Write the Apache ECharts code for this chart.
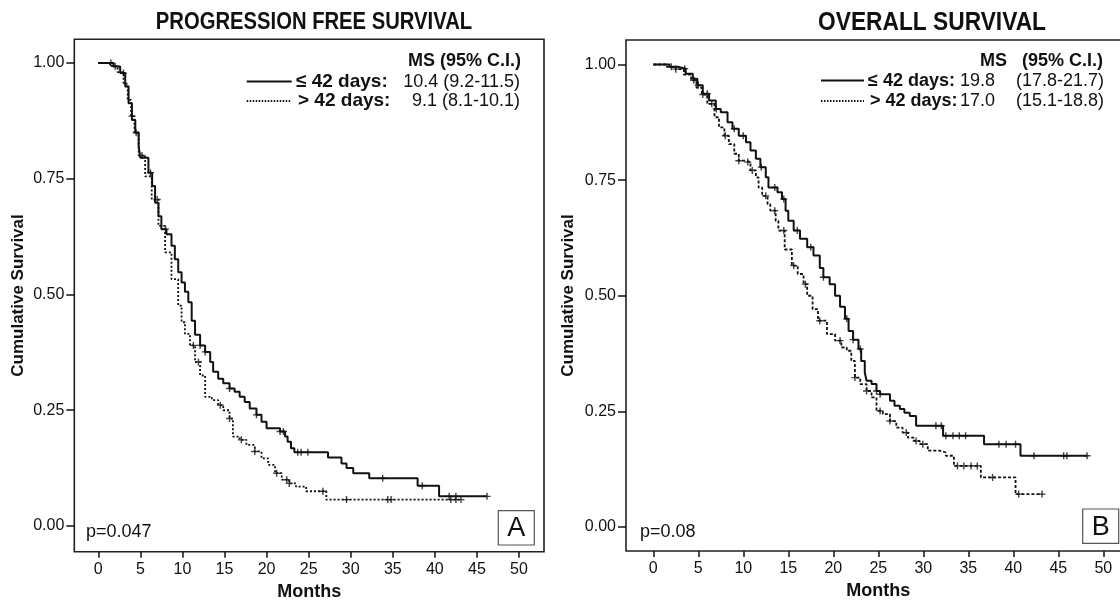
<!DOCTYPE html>
<html><head><meta charset="utf-8">
<script src="https://cdn.jsdelivr.net/npm/echarts@6/dist/echarts.min.js"></script>
<style>html,body{margin:0;padding:0;background:#fff}#c{width:1120px;height:601px}</style>
</head><body><div id="c"></div>
<script>
// ---------- data ----------
const xTickValues = [0,5,10,15,20,25,30,35,40,45,50];
const yTickValues = [0,0.25,0.5,0.75,1];
const panelTitles = ['PROGRESSION FREE SURVIVAL', 'OVERALL SURVIVAL'];
const groupLabels = ['\u2264 42 days:', '> 42 days:'];
const pfsMedians = ['10.4', '9.1'];
const pfsCI = ['(9.2-11.5)', '(8.1-10.1)'];
const osMedians = ['19.8', '17.0'];
const osCI = ['(17.8-21.7)', '(15.1-18.8)'];
const pValues = ['p=0.047', 'p=0.08'];
const panelLetters = ['A', 'B'];

// PFS, <= 42 days (solid)
const pfsShortT = [0,1.8,2.6,3.2,3.6,4.0,4.4,4.8,5.0,5.96,6.4,6.75,7.15,7.5,8.1,8.7,9.1,9.5,9.9,10.3,10.7,11.1,11.5,12.1,12.7,13.3,13.65,14.25,14.85,15.6,16.2,16.8,17.4,18.0,18.8,19.4,20.0,21.6,22.2,22.5,22.9,23.3,27.3,28.9,29.5,30.3,32.2,37.95,40.5,46.2];
const pfsShortS = [1.0,0.992,0.978,0.949,0.913,0.877,0.849,0.82,0.795,0.763,0.734,0.698,0.669,0.641,0.63,0.605,0.576,0.548,0.526,0.506,0.483,0.443,0.413,0.39,0.376,0.354,0.333,0.318,0.308,0.297,0.29,0.279,0.268,0.254,0.24,0.225,0.211,0.204,0.193,0.182,0.168,0.159,0.148,0.135,0.125,0.114,0.103,0.087,0.064,0.064];
const pfsShortCensor = [1.5,3.0,4.5,6.2,8.0,12.1,12.7,15.6,18.8,21.6,22.0,23.7,24.1,24.9,33.8,38.5,41.7,42.5,46.2];

// PFS, > 42 days (dotted)
const pfsLongT = [0,1.4,2.3,3.0,3.5,3.9,4.3,4.8,5.57,6.35,7.15,7.94,8.7,9.5,9.9,10.3,10.9,11.5,12.1,12.7,13.5,14.25,14.85,15.6,16.0,16.8,17.6,18.6,19.4,20.2,21.0,21.8,22.7,23.5,24.7,27.1,43.2];
const pfsLongS = [1.0,0.993,0.98,0.955,0.92,0.885,0.85,0.80,0.755,0.705,0.648,0.591,0.533,0.476,0.44,0.415,0.39,0.354,0.325,0.279,0.272,0.261,0.25,0.232,0.193,0.186,0.175,0.161,0.146,0.132,0.114,0.1,0.092,0.085,0.075,0.057,0.057];
const pfsLongCensor = [2.0,4.0,5.2,7.0,11.3,11.9,14.5,15.6,17.0,18.6,21.2,22.4,22.7,26.7,29.5,34.4,34.8,41.9,42.5,43.1];

// OS, <= 42 days (solid)
const osShortT = [0,1.8,2.7,3.6,4.4,4.9,5.5,6.2,6.95,7.5,8.25,8.8,9.5,10.3,10.8,11.4,11.9,12.5,12.8,13.8,14.3,14.7,15.0,15.6,16.3,17.1,17.8,18.5,18.9,19.6,20.2,20.75,21.3,21.7,22.2,22.8,23.1,23.5,23.7,24.25,24.8,25.2,26.3,26.8,27.4,27.9,28.5,29.2,32.2,36.75,40.8,48.2];
const osShortS = [1.0,0.995,0.991,0.98,0.969,0.955,0.937,0.922,0.904,0.897,0.875,0.861,0.846,0.832,0.814,0.796,0.778,0.756,0.734,0.724,0.709,0.684,0.662,0.641,0.623,0.605,0.587,0.56,0.54,0.525,0.50,0.476,0.45,0.424,0.405,0.385,0.359,0.334,0.316,0.309,0.294,0.287,0.273,0.262,0.255,0.247,0.24,0.219,0.197,0.179,0.154,0.154];
const osShortCensor = [2.0,3.5,5.0,6.0,7.0,9.0,10.0,12.0,13.5,14.5,16.0,17.5,18.9,21.5,22.2,23.0,24.8,25.2,31.4,32.0,32.5,33.3,34.0,34.7,38.4,39.2,40.25,42.3,45.6,45.95,48.2];

// OS, > 42 days (dotted)
const osLongT = [0,1.5,2.5,3.4,4.2,4.8,5.4,6.0,6.8,7.3,7.9,8.4,9.0,9.5,10.3,10.8,11.4,11.7,12.1,12.7,13.0,13.6,13.9,14.6,15.4,16.05,16.7,17.1,17.7,18.3,19.3,20.2,20.9,21.5,22.0,22.4,23.0,23.7,24.25,24.8,25.5,26.3,27.0,27.7,28.3,29.0,29.6,30.5,31.8,32.5,33.4,36.4,40.25,43.2];
const osLongS = [1.0,0.995,0.99,0.978,0.966,0.95,0.935,0.915,0.886,0.864,0.846,0.828,0.807,0.792,0.789,0.771,0.756,0.734,0.716,0.698,0.684,0.662,0.641,0.6,0.565,0.547,0.525,0.50,0.471,0.446,0.417,0.403,0.388,0.381,0.359,0.323,0.309,0.294,0.28,0.251,0.244,0.229,0.215,0.204,0.193,0.186,0.179,0.165,0.161,0.154,0.132,0.107,0.071,0.071];
const osLongCensor = [2.5,4.5,5.5,6.5,8.0,9.5,10.5,11.0,12.5,13.5,14.5,15.6,16.9,18.5,20.75,22.4,23.7,25.2,26.3,28.1,29.2,29.95,33.8,34.5,35.3,36.0,37.7,40.6,43.2];

// ---------- helpers ----------
const FONT = 'Liberation Sans, Arial, Helvetica, sans-serif';
const INK = '#111';
function pairs(T, S) { return T.map((t, i) => [t, S[i]]); }
function stepAt(T, S, t) { let v = S[0]; for (let i = 0; i < T.length; i++) { if (T[i] <= t) v = S[i]; else break; } return v; }
function censorPts(T, S, C) { return C.map(t => [t, stepAt(T, S, t)]); }
const PLUS = 'path://M4,0H6V4H10V6H6V10H4V6H0V4H4Z';

function curve(idx, T, S, dash) {
  return { type: 'line', xAxisIndex: idx, yAxisIndex: idx, data: pairs(T, S), step: 'end',
    showSymbol: false, symbol: 'none', silent: true, animation: false,
    lineStyle: { color: INK, width: dash ? 1.8 : 2, type: dash || 'solid' } };
}
function marks(idx, T, S, C) {
  return { type: 'scatter', xAxisIndex: idx, yAxisIndex: idx, data: censorPts(T, S, C),
    symbol: PLUS, symbolSize: 7, silent: true, animation: false,
    itemStyle: { color: INK } };
}
function xAx(idx, min, max) {
  return { type: 'value', gridIndex: idx, min: min, max: max,
    name: 'Months', nameLocation: 'middle', nameGap: 31,
    nameTextStyle: { fontFamily: FONT, fontWeight: 'bold', fontSize: 18, color: INK },
    axisLine: { show: false, onZero: false }, splitLine: { show: false },
    axisTick: { show: true, inside: false, length: 6, customValues: xTickValues, lineStyle: { color: INK, width: 1.5 } },
    axisLabel: { customValues: xTickValues, margin: 10, fontFamily: FONT, fontSize: 16, color: INK } };
}
function yAx(idx, min, max, gap) {
  return { type: 'value', gridIndex: idx, min: min, max: max,
    name: 'Cumulative Survival', nameLocation: 'middle', nameGap: gap, nameRotate: 90,
    nameTextStyle: { fontFamily: FONT, fontWeight: 'bold', fontSize: 17, color: INK },
    axisLine: { show: false, onZero: false }, splitLine: { show: false },
    axisTick: { show: true, inside: false, length: 8, customValues: yTickValues, lineStyle: { color: INK, width: 1.5 } },
    axisLabel: { customValues: yTickValues, margin: 10, fontFamily: FONT, fontSize: 16, color: INK,
      formatter: v => v.toFixed(2) } };
}
function txt(x, y, text, size, weight, align, sx, sy) {
  return { type: 'text', x: x, y: y, silent: true, scaleX: sx || 1, scaleY: sy || 1,
    style: { text: text, fontFamily: FONT, fontSize: size, fontWeight: weight || 'normal', fill: INK,
      align: align || 'left', verticalAlign: 'middle' } };
}
function seg(x1, x2, y, dash) {
  return { type: 'line', silent: true, shape: { x1: x1, y1: y, x2: x2, y2: y },
    style: { stroke: INK, lineWidth: dash ? 1.8 : 2, lineDash: dash || null } };
}
function boxLetter(x, y, w, h, letter) {
  return [
    { type: 'rect', silent: true, shape: { x: x, y: y, width: w, height: h },
      style: { fill: '#fff', stroke: '#555', lineWidth: 1.2 } },
    txt(x + w / 2, y + h / 2 + 1, letter, 27, 'normal', 'center')
  ];
}

const chart = echarts.init(document.getElementById('c'), null, { renderer: 'canvas' });
chart.setOption({
  backgroundColor: '#fff',
  animation: false,
  grid: [
    { left: 74.3, top: 39.3, width: 469.7, height: 512.4, show: true, borderColor: '#222', borderWidth: 1.6,
      backgroundColor: 'transparent', containLabel: false, outerBoundsMode: 'none' },
    { left: 626, top: 40, width: 504.3, height: 511, show: true, borderColor: '#222', borderWidth: 1.6,
      backgroundColor: 'transparent', containLabel: false, outerBoundsMode: 'none' }
  ],
  xAxis: [ xAx(0, -2.85, 52.97), xAx(1, -3.03, 53.0) ],
  yAxis: [ yAx(0, -0.0555, 1.051, 47), yAx(1, -0.052, 1.053, 49) ],
  series: [
    curve(0, pfsShortT, pfsShortS, null),
    curve(0, pfsLongT, pfsLongS, [2, 2]),
    marks(0, pfsShortT, pfsShortS, pfsShortCensor),
    marks(0, pfsLongT, pfsLongS, pfsLongCensor),
    curve(1, osShortT, osShortS, null),
    curve(1, osLongT, osLongS, [3, 2]),
    marks(1, osShortT, osShortS, osShortCensor),
    marks(1, osLongT, osLongS, osLongCensor)
  ],
  graphic: [
    txt(314, 23, panelTitles[0], 23, 'bold', 'center', 0.88, 1),
    txt(932, 23, panelTitles[1], 25, 'bold', 'center', 0.91, 1),
    // left legend
    txt(521, 61, 'MS (95% C.I.)', 18, 'bold', 'right'),
    seg(246.7, 291.7, 81.5, null),
    txt(296, 82, groupLabels[0], 19, 'bold', 'left'),
    txt(520, 82, pfsMedians[0] + ' ' + pfsCI[0], 18, 'normal', 'right'),
    seg(246.7, 291.7, 101, [1.5, 1.5]),
    txt(298, 101, groupLabels[1], 19, 'bold', 'left'),
    txt(520, 101, pfsMedians[1] + ' ' + pfsCI[1], 18, 'normal', 'right'),
    // right legend
    txt(1007, 61, 'MS', 18, 'bold', 'right'),
    txt(1103, 61, '(95% C.I.)', 18, 'bold', 'right'),
    seg(821, 864, 80.5, null),
    txt(868, 81, groupLabels[0], 18, 'bold', 'left'),
    txt(960, 81, osMedians[0], 18, 'normal', 'left'),
    txt(1104, 81, osCI[0], 18, 'normal', 'right'),
    seg(821, 864, 101, [1.5, 1.5]),
    txt(870, 101, groupLabels[1], 18, 'bold', 'left'),
    txt(960, 101, osMedians[1], 18, 'normal', 'left'),
    txt(1104, 101, osCI[1], 18, 'normal', 'right'),
    // p-values
    txt(86, 532, pValues[0], 18, 'normal', 'left'),
    txt(640, 532, pValues[1], 18, 'normal', 'left'),
    ...boxLetter(498.3, 510.7, 36, 34.3, panelLetters[0]),
    ...boxLetter(1082.7, 509, 36, 34.3, panelLetters[1])
  ]
});
</script></body></html>
